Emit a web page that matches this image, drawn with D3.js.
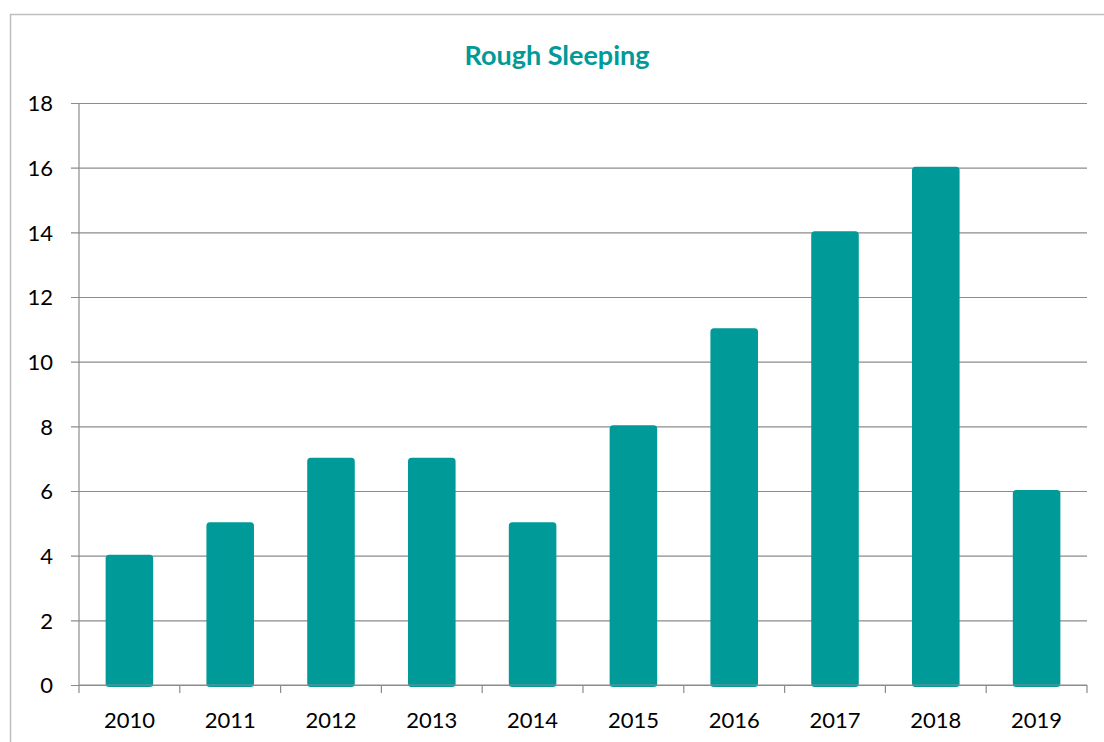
<!DOCTYPE html>
<html>
<head>
<meta charset="utf-8">
<script src="https://cdn.jsdelivr.net/npm/d3@7"></script>
<style>
  html, body { margin: 0; padding: 0; background: #fff; }
  svg { display: block; }
  text { font-family: Lato, "Open Sans", sans-serif; }
</style>
</head>
<body>
<svg id="chart" width="1104" height="742"></svg>
<script>
// Rough sleeping counts per year
const years = ["2010", "2011", "2012", "2013", "2014", "2015", "2016", "2017", "2018", "2019"];
const counts = [4, 5, 7, 7, 5, 8, 11, 14, 16, 6];
const yTicks = [0, 2, 4, 6, 8, 10, 12, 14, 16, 18];
const title = "Rough Sleeping";

const svg = d3.select("#chart");
const W = 1104, H = 742;
const plot = { left: 79, right: 1087, top: 103, bottom: 685 };
const teal = "#009a99";

// chart frame
svg.append("rect")
  .attr("x", 10.5).attr("y", 14.5)
  .attr("width", W + 10).attr("height", H)
  .attr("fill", "#fff").attr("stroke", "#bfbfbf").attr("stroke-width", 1.5);

const x = d3.scaleBand().domain(years).range([plot.left, plot.right]).paddingInner(0.548).paddingOuter(0.274);
const y = d3.scaleLinear().domain([0, 18]).range([plot.bottom, plot.top]);

// horizontal gridlines with outward ticks
const yAxis = d3.axisLeft(y).tickValues(yTicks).tickSize(-(plot.right - plot.left)).tickPadding(26).tickSizeOuter(0);
const gy = svg.append("g").attr("transform", `translate(${plot.left},0)`).call(yAxis);
gy.select(".domain").remove();
gy.selectAll(".tick line")
  .attr("x1", -8)
  .attr("stroke", "#8c8c8c").attr("stroke-width", 1.2);
gy.selectAll(".tick text")
  .attr("font-size", 22).attr("fill", "#000").attr("dy", "0.35em");

// left axis line
svg.append("line")
  .attr("x1", plot.left).attr("x2", plot.left)
  .attr("y1", plot.top).attr("y2", plot.bottom)
  .attr("stroke", "#8c8c8c").attr("stroke-width", 1.2);

// bars
svg.append("g").selectAll("rect").data(counts).join("rect")
  .attr("x", (d, i) => x(years[i]))
  .attr("width", x.bandwidth())
  .attr("y", d => y(d))
  .attr("height", d => y(0) - y(d) + 1)
  .attr("rx", 2.5)
  .attr("fill", teal)
  .attr("stroke", teal).attr("stroke-width", 2);

// category boundary ticks along the baseline
const bounds = d3.range(years.length + 1).map(i => plot.left + i * (plot.right - plot.left) / years.length);
svg.append("g").selectAll("line").data(bounds).join("line")
  .attr("x1", d => d).attr("x2", d => d)
  .attr("y1", plot.bottom).attr("y2", plot.bottom + 8)
  .attr("stroke", "#8c8c8c").attr("stroke-width", 1.2);

// baseline
svg.append("line")
  .attr("x1", plot.left).attr("x2", plot.right)
  .attr("y1", plot.bottom).attr("y2", plot.bottom)
  .attr("stroke", "#8c8c8c").attr("stroke-width", 1.2);

// year labels
svg.append("g").selectAll("text").data(years).join("text")
  .attr("x", d => x(d) + x.bandwidth() / 2)
  .attr("y", 728)
  .attr("text-anchor", "middle")
  .attr("font-size", 22)
  .attr("fill", "#000")
  .text(d => d);

// title
svg.append("text")
  .attr("x", 557).attr("y", 65)
  .attr("text-anchor", "middle")
  .attr("font-size", 27).attr("font-weight", "bold")
  .attr("fill", teal)
  .text(title);
</script>
</body>
</html>
